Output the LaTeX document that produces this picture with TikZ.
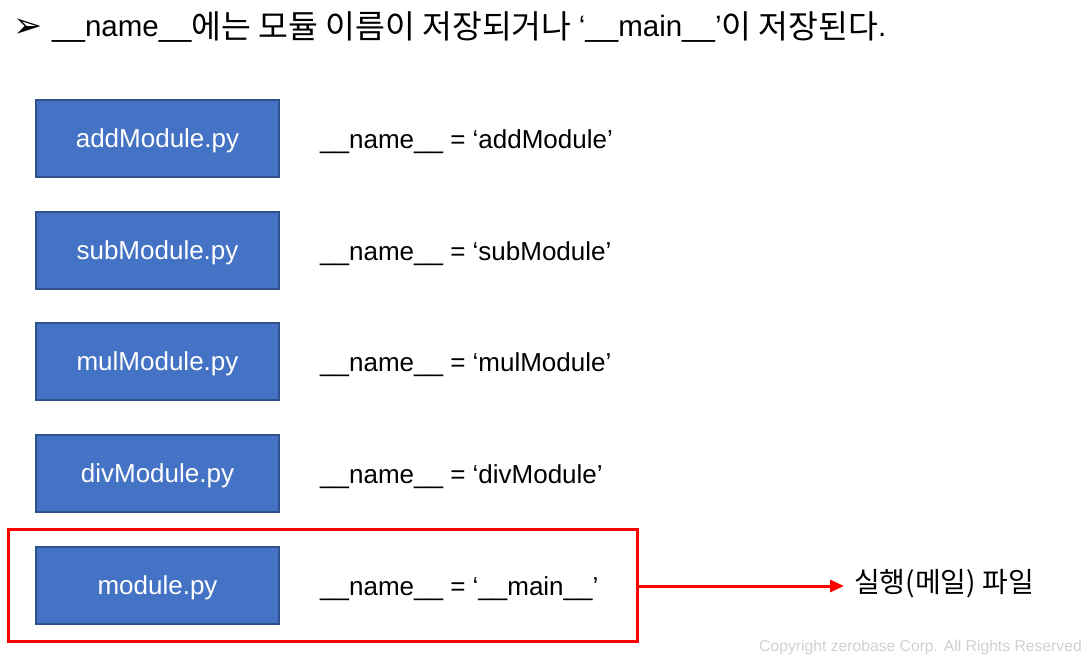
\documentclass[tikz,border=0pt]{standalone}
\usepackage{fontspec}
\setmainfont{Liberation Sans}
\newfontfamily\kr{Noto Sans CJK KR}
\newfontfamily\krw{Noto Sans CJK KR}[Scale=1.1]
\newfontfamily\dv{DejaVu Sans}[BoldFont={DejaVu Sans Bold}]
\usetikzlibrary{arrows.meta}
\definecolor{boxblue}{HTML}{4472C4}
\definecolor{boxedge}{HTML}{2F528F}
\definecolor{copygray}{HTML}{D0D0D0}
\newcommand{\krt}[1]{\raisebox{-1.8pt}{\krw #1}}
\tikzset{
  modbox/.style={draw=boxedge, line width=2pt, fill=boxblue, text=white,
    minimum width=243pt, minimum height=77pt, inner sep=0pt, text depth=0pt,
    font=\fontsize{26}{30}\selectfont},
  namelab/.style={anchor=west, inner sep=0pt, text depth=0pt, font=\fontsize{26}{30}\selectfont},
  redbox/.style={draw=red, line width=3pt, minimum width=629pt, minimum height=112pt, inner sep=0pt},
  redarrow/.style={draw=red, line width=3pt, -{Triangle[length=14pt,width=12pt]}},
}
\begin{document}
\begin{tikzpicture}[x=1pt,y=-1pt]
\useasboundingbox (0,0) rectangle (1092,661);
\node[anchor=center, inner sep=0pt, font=\dv\bfseries\fontsize{35}{40}\selectfont] (bul) at (28,28) {➢};
\node[anchor=west, inner sep=0pt, text depth=0pt, font=\fontsize{29.5}{34}\selectfont] (title) at (52,24)
  {\_\_name\_\_\krt{에는 모듈 이름이 저장되거나 }‘\_\_main\_\_’\krt{이 저장된다}.};

\node[modbox] (b1) at (157.5,138.5) {addModule.py};
\node[modbox] (b2) at (157.5,250.5) {subModule.py};
\node[modbox] (b3) at (157.5,361.5) {mulModule.py};
\node[modbox] (b4) at (157.5,473.5) {divModule.py};
\node[modbox] (b5) at (157.5,585) {module.py};

\node[namelab] (n1) at (320,139) {\_\_name\_\_ = ‘addModule’};
\node[namelab] (n2) at (320,251) {\_\_name\_\_ = ‘subModule’};
\node[namelab] (n3) at (320,362) {\_\_name\_\_ = ‘mulModule’};
\node[namelab] (n4) at (320,474) {\_\_name\_\_ = ‘divModule’};
\node[namelab] (n5) at (320,586) {\_\_name\_\_ = ‘\_\_main\_\_’};

\node[redbox] (sel) at (322.5,585) {};
\node[anchor=west, inner sep=0pt, font=\kr\fontsize{28}{32}\selectfont] (exec) at (854,584) {실행(메일) 파일};
\coordinate (a0) at (sel.east |- 0,586);
\draw[redarrow] (a0) -- (a0 -| 844,0);

\node[anchor=east, inner sep=0pt, text=copygray, font=\fontsize{15.7}{18}\selectfont] (copy) at (1082,647) {Copyright zerobase Corp. All Rights Reserved};
\end{tikzpicture}
\end{document}
